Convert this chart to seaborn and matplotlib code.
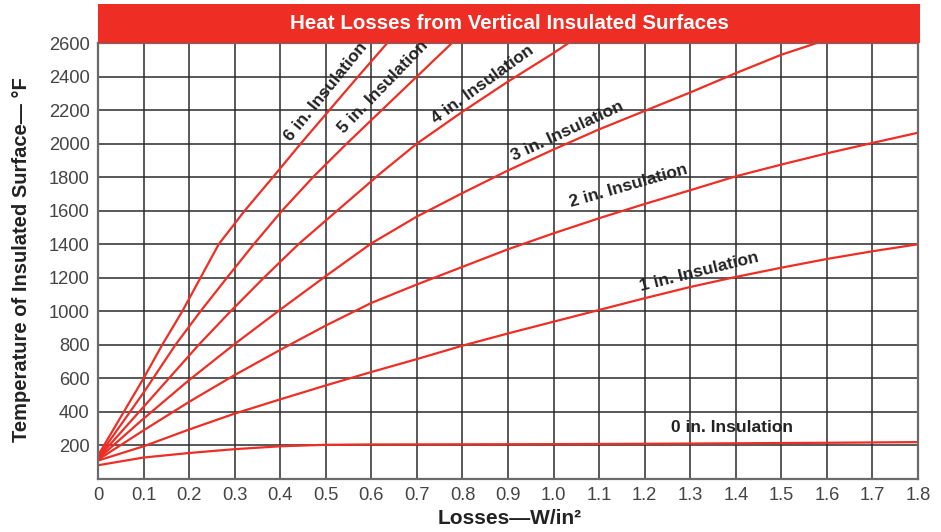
import numpy as np
import pandas as pd
import seaborn as sns
import matplotlib.pyplot as plt

# values (losses in W/in^2, temperature in deg F)
in0_loss = [0, 0.1, 0.2, 0.3, 0.4, 0.5, 0.6, 0.8, 1.0, 1.2, 1.4, 1.6, 1.8]
in0_temp = [82, 128, 155, 178, 195, 204, 206, 207, 208, 210, 213, 216, 220]

in1_loss = [0, 0.1, 0.2, 0.3, 0.4, 0.5, 0.6, 0.7, 0.8, 0.9, 1.0, 1.1, 1.2, 1.3, 1.4, 1.5, 1.6, 1.7, 1.8]
in1_temp = [110, 195, 295, 390, 475, 558, 638, 715, 795, 868, 938, 1008, 1078, 1145, 1205, 1260, 1312, 1358, 1400]

in2_loss = [0, 0.1, 0.2, 0.3, 0.4, 0.5, 0.6, 0.7, 0.8, 0.9, 1.0, 1.1, 1.2, 1.3, 1.4, 1.5, 1.6, 1.7, 1.8]
in2_temp = [115, 290, 460, 620, 770, 915, 1050, 1160, 1265, 1370, 1465, 1555, 1640, 1722, 1805, 1875, 1942, 2004, 2065]

in3_loss = [0, 0.1, 0.2, 0.3, 0.4, 0.5, 0.6, 0.7, 0.8, 0.9, 1.0, 1.1, 1.2, 1.3, 1.4, 1.5, 1.578]
in3_temp = [120, 360, 590, 805, 1010, 1210, 1405, 1565, 1705, 1840, 1965, 2085, 2195, 2305, 2420, 2530, 2600]

in4_loss = [0, 0.1, 0.221, 0.291, 0.364, 0.44, 0.525, 0.62, 0.7, 0.8, 0.9, 1.0, 1.033]
in4_temp = [125, 430, 800, 1000, 1200, 1400, 1600, 1823, 2000, 2190, 2370, 2540, 2600]

in5_loss = [0, 0.1, 0.17, 0.225, 0.283, 0.342, 0.404, 0.472, 0.546, 0.623, 0.70, 0.777]
in5_temp = [130, 515, 800, 1000, 1200, 1400, 1600, 1800, 2000, 2200, 2400, 2600]

in6_loss = [0, 0.1, 0.141, 0.185, 0.225, 0.265, 0.322, 0.384, 0.445, 0.508, 0.571, 0.635]
in6_temp = [140, 600, 800, 1000, 1200, 1400, 1600, 1800, 2000, 2200, 2400, 2600]

curve_names = ['0 in.', '1 in.', '2 in.', '3 in.', '4 in.', '5 in.', '6 in.']
curve_loss = [in0_loss, in1_loss, in2_loss, in3_loss, in4_loss, in5_loss, in6_loss]
curve_temp = [in0_temp, in1_temp, in2_temp, in3_temp, in4_temp, in5_temp, in6_temp]

x_ticks = [0, 0.1, 0.2, 0.3, 0.4, 0.5, 0.6, 0.7, 0.8, 0.9, 1.0, 1.1, 1.2, 1.3, 1.4, 1.5, 1.6, 1.7, 1.8]
x_tick_labels = ['0', '0.1', '0.2', '0.3', '0.4', '0.5', '0.6', '0.7', '0.8', '0.9', '1.0',
                 '1.1', '1.2', '1.3', '1.4', '1.5', '1.6', '1.7', '1.8']
y_ticks = [200, 400, 600, 800, 1000, 1200, 1400, 1600, 1800, 2000, 2200, 2400, 2600]

# label anchor (loss, temp) and rotation in screen degrees
label_loss = [1.392, 1.32, 1.164, 1.03, 0.845, 0.625, 0.500]
label_temp = [307, 1235, 1750, 2075, 2350, 2335, 2310]
label_rot = [0, 14, 16, 25, 36, 46, 51]

RED = '#ee2e24'

sns.set_theme(style='white')
plt.rcParams['font.family'] = ['Liberation Sans', 'DejaVu Sans']

df = pd.concat([
    pd.DataFrame({'loss': lx, 'temp': ty, 'curve': name})
    for name, lx, ty in zip(curve_names, curve_loss, curve_temp)
], ignore_index=True)

fig = plt.figure(figsize=(9.41, 5.32), dpi=100)
ax = fig.add_axes([98 / 941, 53 / 532, 820 / 941, 436 / 532])

for name in curve_names:
    sub = df[df['curve'] == name]
    sns.lineplot(data=sub, x='loss', y='temp', ax=ax, color=RED, linewidth=1.6,
                 estimator=None, sort=False)

ax.set_xlim(0, 1.8)
ax.set_ylim(0, 2600)
ax.set_xticks(x_ticks)
ax.set_xticklabels(x_tick_labels)
ax.set_yticks(y_ticks)
ax.grid(True, color='#2b2b2b', linewidth=1.1)
ax.set_axisbelow(True)
for sp in ax.spines.values():
    sp.set_color('#6b6b6b')
    sp.set_linewidth(1.6)
ax.tick_params(axis='both', length=0, labelsize=13.2, labelcolor='#444444', pad=6)
ax.set_xlabel('')
ax.set_ylabel('')

for name, lx, ty, rot in zip(curve_names, label_loss, label_temp, label_rot):
    ax.text(lx, ty, name + ' Insulation', rotation=rot, rotation_mode='anchor',
            ha='center', va='center', fontsize=12.5, fontweight='bold', color='#222222')

# red title banner
banner = fig.add_axes([98 / 941, 489 / 532, 822 / 941, 39 / 532])
banner.set_facecolor(RED)
banner.set_xticks([])
banner.set_yticks([])
for sp in banner.spines.values():
    sp.set_visible(False)
banner.text(0.5, 0.5, 'Heat Losses from Vertical Insulated Surfaces', ha='center', va='center',
            color='white', fontsize=14.8, fontweight='bold', transform=banner.transAxes)

fig.text(22 / 941, 1 - 260 / 532, 'Temperature of Insulated Surface\u2014 \u00b0F', rotation=90,
         ha='center', va='center', fontsize=14.5, fontweight='bold', color='#222222')
fig.text(510 / 941, 1 - 519 / 532, 'Losses\u2014W/in\u00b2', ha='center', va='center',
         fontsize=15, fontweight='bold', color='#222222')

fig.savefig('out.png', dpi=100)
plt.close(fig)
